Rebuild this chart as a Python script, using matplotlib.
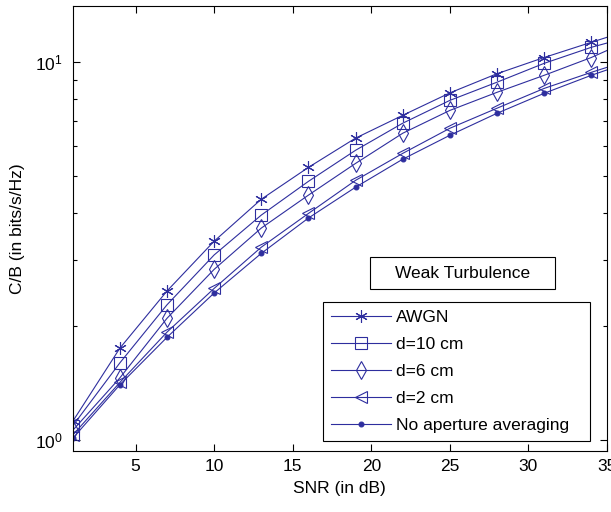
import matplotlib
matplotlib.use("Agg")
import matplotlib.pyplot as plt
from matplotlib.patches import Rectangle
from matplotlib.ticker import LogLocator, NullFormatter, FixedLocator

plt.rcParams['font.family'] = ['Liberation Sans', 'DejaVu Sans']
plt.rcParams['mathtext.fontset'] = 'custom'
plt.rcParams['mathtext.rm'] = 'Liberation Sans'

snr = [1, 4, 7, 10, 13, 16, 19, 22, 25, 28, 31, 34, 35]
awgn = [1.12, 1.75, 2.48, 3.36, 4.34, 5.27, 6.30, 7.24, 8.30, 9.33, 10.3, 11.3, 11.65]
d10 = [1.09, 1.60, 2.28, 3.09, 3.94, 4.84, 5.85, 6.90, 7.93, 8.86, 9.94, 10.96, 11.25]
d6 = [1.06, 1.46, 2.10, 2.83, 3.64, 4.45, 5.40, 6.49, 7.46, 8.33, 9.24, 10.3, 10.75]
d2 = [1.03, 1.42, 1.93, 2.52, 3.24, 3.98, 4.87, 5.74, 6.69, 7.56, 8.53, 9.41, 9.70]
noap = [1.01, 1.40, 1.87, 2.45, 3.12, 3.87, 4.67, 5.54, 6.41, 7.33, 8.28, 9.24, 9.55]

labels = ['AWGN', 'd=10 cm', 'd=6 cm', 'd=2 cm', 'No aperture averaging']
xticks = [5, 10, 15, 20, 25, 30, 35]
title_text = 'Weak Turbulence'

color = '#2E2E9E'
fig = plt.figure(figsize=(6.11, 5.12), dpi=100)
ax = fig.add_axes([72.7 / 611, (512 - 451) / 512, (607 - 72.7) / 611, (451 - 6) / 512])

series = [awgn, d10, d6, d2, noap]
markers = [(6, 2, 0), 's', 'd', '<', '.']
msizes = [9, 9, 9, 9, 7]
mk_every = slice(0, 12)
for y, lab, mk, ms in zip(series, labels, markers, msizes):
    ax.plot(snr, y, color=color, lw=0.8, marker=mk, ms=ms, mfc='none' if mk != '.' else color,
            mec=color, mew=0.8, markevery=mk_every, label=lab)

ax.set_yscale('log')
ax.set_xlim(1, 35)
ax.set_ylim(0.935, 14.1)
ax.xaxis.set_major_locator(FixedLocator(xticks))
ax.yaxis.set_major_locator(LogLocator(base=10, numticks=10))
ax.yaxis.set_minor_locator(LogLocator(base=10, subs=range(2, 10), numticks=10))
ax.yaxis.set_minor_formatter(NullFormatter())

ax.tick_params(which='both', direction='in', top=True, right=True, labelsize=12.5, width=0.8)
ax.tick_params(which='major', length=5)
ax.tick_params(which='minor', length=3)
ax.tick_params(axis='x', pad=6)
ax.tick_params(axis='y', pad=7)
for s in ax.spines.values():
    s.set_linewidth(0.8)

ax.set_xlabel('SNR (in dB)', fontsize=12.5, labelpad=5)
ax.set_ylabel('C/B (in bits/s/Hz)', fontsize=12.5)
ax.yaxis.set_label_coords(-0.089, 0.5)

leg = ax.legend(loc='lower left', bbox_to_anchor=(0.4685, 0.0225, 0.4995, 0.32), mode='expand',
                borderaxespad=0, fancybox=False, edgecolor='black', framealpha=1,
                fontsize=12.5, handlelength=3.45, handletextpad=0.3, labelspacing=0.69,
                borderpad=0.45)
leg.get_frame().set_linewidth(0.8)

rx0, rx1 = (370 - 72.7) / 534.3, (555 - 72.7) / 534.3
ry0, ry1 = (451 - 289) / 445, (451 - 257) / 445
ax.add_patch(Rectangle((rx0, ry0), rx1 - rx0, ry1 - ry0, transform=ax.transAxes,
                       fill=True, facecolor='white', edgecolor='black', lw=0.8, zorder=5))
ax.text((rx0 + rx1) / 2, (ry0 + ry1) / 2, title_text, transform=ax.transAxes,
        ha='center', va='center', fontsize=12.5, zorder=6)

fig.savefig('out.png', dpi=100)
